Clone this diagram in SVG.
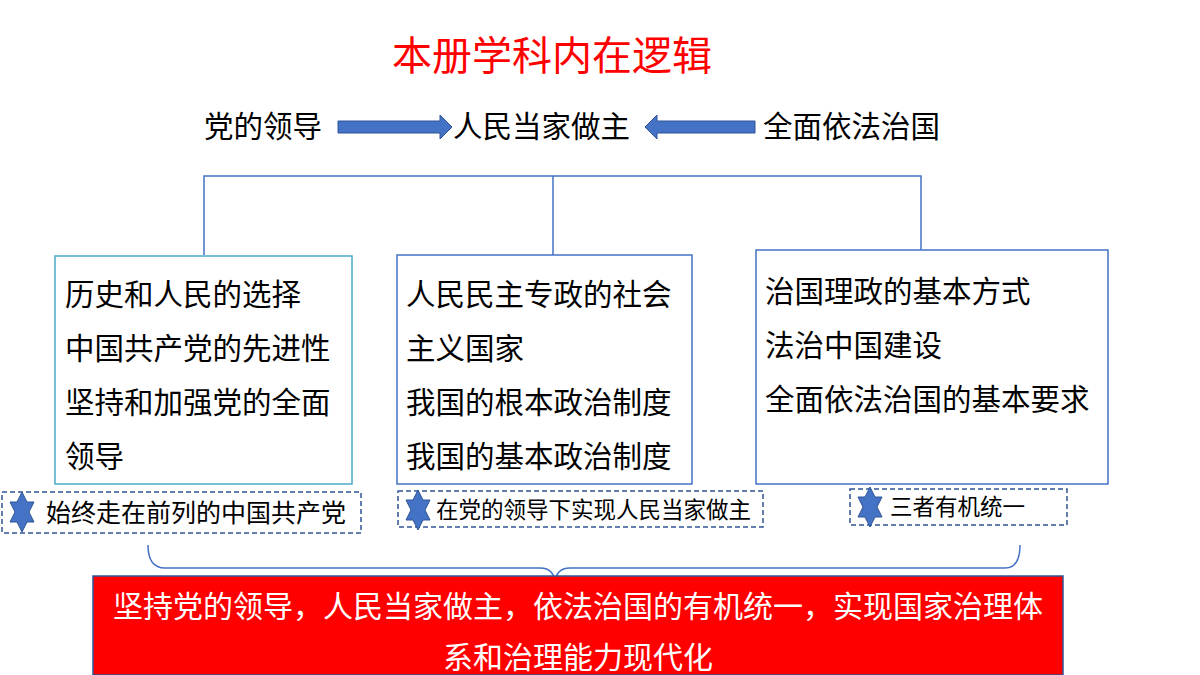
<svg xmlns="http://www.w3.org/2000/svg" width="1200" height="675" viewBox="0 0 1200 675">
<defs>
<style>
text{font-family:"Noto Sans CJK SC","Noto Sans",sans-serif;fill:#000}
.t{font-size:29.5px}
.s{font-size:22.5px}
.box{fill:#fff;stroke:#4472C4;stroke-width:1.5}
.dash{fill:#fff;stroke:#2F5597;stroke-width:1.5;stroke-dasharray:5 3}
.ln{fill:none;stroke:#4472C4;stroke-width:1.5}
.ar{fill:#4472C4;stroke:#2F5597;stroke-width:1}
.star{fill:#4472C4;stroke:#2F5597;stroke-width:1}
</style>
<polygon id="star" class="star" points="0,-20 5,-10 12,-10 7,0 12,10 5,10 0,20 -5,10 -12,10 -7,0 -12,-10 -5,-10"/>
</defs>
<rect width="1200" height="675" fill="#fff"/>
<text x="552" y="70" font-size="40" text-anchor="middle" style="fill:#FF0000">本册学科内在逻辑</text>
<g id="n-party"><text class="t" x="204" y="137">党的领导</text></g>
<g id="n-people"><text class="t" x="453" y="137">人民当家做主</text></g>
<g id="n-law"><text class="t" x="763" y="137">全面依法治国</text></g>
<g id="connectors">
<polygon class="ar" points="338,121 440,121 440,115 452,127 440,139 440,133 338,133"/>
<polygon class="ar" points="755,121 657,121 657,115 645,127 657,139 657,133 755,133"/>
<path class="ln" d="M204,255V176H921V250M553,176V255"/>
<path class="ln" d="M148,545Q148,568 165,568H540Q555,568 555,585Q555,568 570,568H1005Q1020,568 1020,545"/>
</g>
<g id="n-box1"><rect x="55" y="256" width="297" height="228" fill="#fff" stroke="#4BACC6" stroke-width="1.5"/>
<text class="t" x="65" y="305">历史和人民的选择</text><text class="t" x="65" y="359">中国共产党的先进性</text><text class="t" x="65" y="413">坚持和加强党的全面</text><text class="t" x="65" y="467">领导</text></g>
<g id="n-box2"><rect class="box" x="397" y="255" width="295" height="229"/>
<text class="t" x="406" y="305">人民民主专政的社会</text><text class="t" x="406" y="359">主义国家</text><text class="t" x="406" y="413">我国的根本政治制度</text><text class="t" x="406" y="467">我国的基本政治制度</text></g>
<g id="n-box3"><rect class="box" x="756" y="250" width="352" height="234"/>
<text class="t" x="765" y="302">治国理政的基本方式</text><text class="t" x="765" y="356">法治中国建设</text><text class="t" x="765" y="410">全面依法治国的基本要求</text></g>
<g id="n-note1"><rect class="dash" x="2" y="492" width="359" height="41"/><use href="#star" x="22" y="512"/><text x="46" y="522" font-size="25">始终走在前列的中国共产党</text></g>
<g id="n-note2"><rect class="dash" x="398" y="491" width="365" height="36"/><use href="#star" x="418" y="510"/><text class="s" x="436" y="518">在党的领导下实现人民当家做主</text></g>
<g id="n-note3"><rect class="dash" x="850" y="489" width="217" height="36"/><use href="#star" x="870" y="507"/><text class="s" x="890" y="515">三者有机统一</text></g>
<g id="n-summary"><rect x="93" y="576" width="970" height="99" fill="#FF0000" stroke="#2F5597" stroke-width="1.5"/>
<text x="578" y="617" font-size="30" text-anchor="middle" style="fill:#fff">坚持党的领导，人民当家做主，依法治国的有机统一，实现国家治理体</text>
<text x="578" y="668" font-size="30" text-anchor="middle" style="fill:#fff">系和治理能力现代化</text></g>
</svg>
